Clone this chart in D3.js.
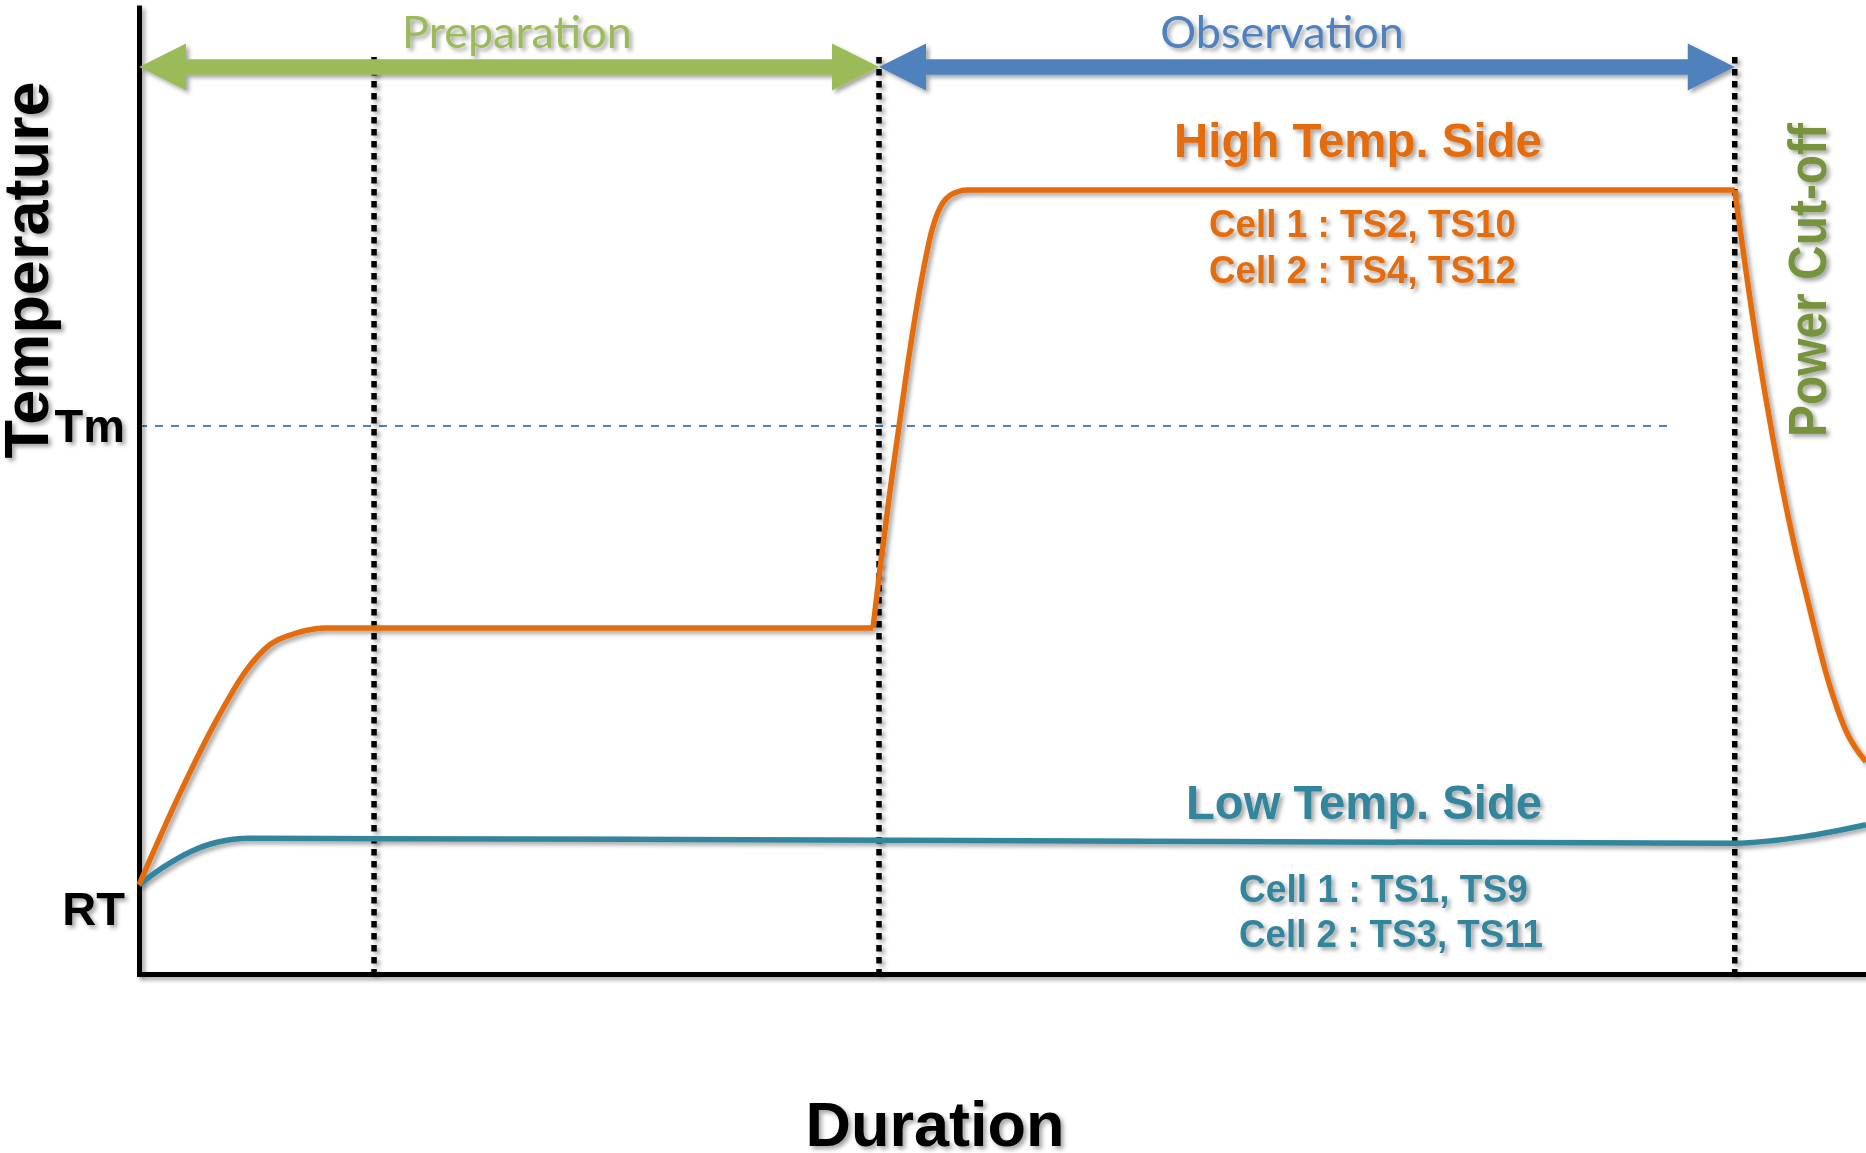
<!DOCTYPE html>
<html>
<head>
<meta charset="utf-8">
<script src="https://cdn.jsdelivr.net/npm/d3@7"></script>
<style>
html,body{margin:0;padding:0;background:#fff;}
svg{display:block;}
</style>
</head>
<body>
<script>
// ---------- data (time units 0..100, temperature units 0..100) ----------
const highTime = [0, 2.28, 4.52, 6.2, 7.59, 9.15, 10.89, 42.5, 42.9, 43.49, 44.0, 44.64, 45.34, 45.92, 46.55, 47.37, 47.95, 92.4, 93.63, 94.6, 95.77, 96.7, 97.68, 98.84, 100];
const highTemp = [9.2, 18.3, 26.3, 31.3, 34.0, 35.2, 35.7, 35.7, 41.7, 49.9, 56.4, 64.4, 71.9, 76.8, 79.6, 80.7, 80.9, 80.9, 65.6, 55.4, 44.9, 38.0, 31.1, 25.1, 21.9];
const lowTime = [0, 1.39, 2.95, 4.52, 6.43, 44.06, 92.4, 96.5, 100];
const lowTemp = [9.2, 11.0, 12.6, 13.6, 14.0, 13.8, 13.5, 14.2, 15.4];
const eventTimes = [13.61, 42.85, 92.4];     // dotted vertical markers
const breakTimes = [42.5, 92.4];             // heating steps (sharp corners)
const phaseNames = ["Preparation", "Observation"];
const phaseStart = [0, 42.85];
const phaseEnd = [42.85, 92.4];
const phaseColors = ["#9BBB59", "#4F81BD"];
const yTickValues = [6.7, 56.55];
const yTickLabels = ["RT", "Tm"];
const tmValue = 56.55;
const tmEndTime = 88.7;
const highLabels = ["High Temp. Side", "Cell 1 : TS2, TS10", "Cell 2 : TS4, TS12"];
const lowLabels = ["Low Temp. Side", "Cell 1 : TS1, TS9", "Cell 2 : TS3, TS11"];

// ---------- layout ----------
const W = 1866, H = 1153;
const ORANGE = "#E46C0A", TEAL = "#31859C";
const FONT = "'Liberation Sans', Arial, Helvetica, sans-serif";

const svg = d3.select("body").append("svg").attr("width", W).attr("height", H);
svg.append("rect").attr("width", W).attr("height", H).attr("fill", "#fff");

const defs = svg.append("defs");
const f = defs.append("filter").attr("id", "shadow")
  .attr("filterUnits", "userSpaceOnUse").attr("x", -W).attr("y", -H).attr("width", 3 * W).attr("height", 3 * H);
f.append("feDropShadow").attr("dx", 3).attr("dy", 3).attr("stdDeviation", 2)
  .attr("flood-color", "#000").attr("flood-opacity", 0.35);

const x = d3.scaleLinear().domain([0, 100]).range([139, 1866]);
const y = d3.scaleLinear().domain([0, 100]).range([974, 5]);

// Tm dashed reference line
svg.append("line")
  .attr("x1", x(0)).attr("x2", x(tmEndTime))
  .attr("y1", y(tmValue)).attr("y2", y(tmValue))
  .attr("stroke", "#4F81BD").attr("stroke-width", 2).attr("stroke-dasharray", "8,8");

// dotted event lines
svg.append("g").attr("filter", "url(#shadow)")
  .selectAll("line").data(eventTimes).join("line")
  .attr("x1", d => x(d)).attr("x2", d => x(d))
  .attr("y1", 57).attr("y2", y(0))
  .attr("stroke", "#000").attr("stroke-width", 5.5).attr("stroke-dasharray", "6.5,5.5");

// axes
const gy = svg.append("g").attr("transform", `translate(${x(0)},0)`).attr("filter", "url(#shadow)")
  .call(d3.axisLeft(y).tickValues(yTickValues).tickFormat((d, i) => yTickLabels[i])
    .tickSize(0).tickSizeOuter(0).tickPadding(14));
gy.select(".domain").attr("stroke", "#000").attr("stroke-width", 5);
gy.selectAll("text").attr("font-family", FONT).attr("font-weight", "bold")
  .attr("font-size", 47).attr("fill", "#000");

const gx = svg.append("g").attr("transform", `translate(0,${y(0)})`).attr("filter", "url(#shadow)")
  .call(d3.axisBottom(x).tickValues([]).tickSize(0).tickSizeOuter(0));
gx.select(".domain").attr("stroke", "#000").attr("stroke-width", 5).attr("stroke-linecap", "square");

// curves
const line = d3.line().x(d => x(d[0])).y(d => y(d[1])).curve(d3.curveMonotoneX);
const highPts = highTime.map((t, i) => [t, highTemp[i]]);
const lowPts = lowTime.map((t, i) => [t, lowTemp[i]]);
const bounds = [0, ...breakTimes, 100];
const highSegs = [];
for (let i = 0; i < bounds.length - 1; i++) {
  highSegs.push(highPts.filter(p => p[0] >= bounds[i] && p[0] <= bounds[i + 1]));
}
const gc = svg.append("g").attr("filter", "url(#shadow)");
gc.append("path").attr("d", line(lowPts)).attr("fill", "none")
  .attr("stroke", TEAL).attr("stroke-width", 5.5);
gc.selectAll("path.high").data(highSegs).join("path").attr("class", "high")
  .attr("d", d => line(d)).attr("fill", "none")
  .attr("stroke", ORANGE).attr("stroke-width", 5.5).attr("stroke-linejoin", "round");

// phase arrows
const arrowY = 67, hl = 47, hh = 23.5, sh = 7.8;
function arrowPath(x0, x1) {
  return `M${x0},${arrowY} L${x0 + hl},${arrowY - hh} L${x0 + hl},${arrowY - sh} L${x1 - hl},${arrowY - sh} ` +
    `L${x1 - hl},${arrowY - hh} L${x1},${arrowY} L${x1 - hl},${arrowY + hh} L${x1 - hl},${arrowY + sh} ` +
    `L${x0 + hl},${arrowY + sh} L${x0 + hl},${arrowY + hh} Z`;
}
const phaseLabelX = [517, 1282];
const ga = svg.append("g").attr("filter", "url(#shadow)");
phaseNames.forEach((name, i) => {
  ga.append("path").attr("d", arrowPath(x(phaseStart[i]), x(phaseEnd[i]))).attr("fill", phaseColors[i]);
  ga.append("text").attr("x", phaseLabelX[i]).attr("y", 48).attr("text-anchor", "middle")
    .attr("font-family", "Lato, 'Open Sans', sans-serif").attr("font-size", 45)
    .attr("fill", phaseColors[i]).text(name);
});

// annotations
const gt = svg.append("g").attr("filter", "url(#shadow)")
  .attr("font-family", FONT).attr("font-weight", "bold");

gt.append("text").attr("x", 1358).attr("y", 157).attr("text-anchor", "middle")
  .attr("font-size", 48).attr("textLength", 368).attr("lengthAdjust", "spacingAndGlyphs")
  .attr("fill", ORANGE).text(highLabels[0]);
gt.append("text").attr("x", 1209).attr("y", 237).attr("font-size", 38).attr("textLength", 307)
  .attr("lengthAdjust", "spacingAndGlyphs").attr("fill", ORANGE).text(highLabels[1]);
gt.append("text").attr("x", 1209).attr("y", 283).attr("font-size", 38).attr("textLength", 307)
  .attr("lengthAdjust", "spacingAndGlyphs").attr("fill", ORANGE).text(highLabels[2]);

gt.append("text").attr("x", 1364).attr("y", 819).attr("text-anchor", "middle")
  .attr("font-size", 48).attr("textLength", 356).attr("lengthAdjust", "spacingAndGlyphs")
  .attr("fill", TEAL).text(lowLabels[0]);
gt.append("text").attr("x", 1239).attr("y", 902).attr("font-size", 38).attr("textLength", 289)
  .attr("lengthAdjust", "spacingAndGlyphs").attr("fill", TEAL).text(lowLabels[1]);
gt.append("text").attr("x", 1239).attr("y", 947).attr("font-size", 38).attr("textLength", 304)
  .attr("lengthAdjust", "spacingAndGlyphs").attr("fill", TEAL).text(lowLabels[2]);

gt.append("text").attr("transform", "translate(1826,280) rotate(-90)").attr("text-anchor", "middle")
  .attr("font-size", 54).attr("textLength", 314).attr("lengthAdjust", "spacingAndGlyphs")
  .attr("fill", "#77933C").text("Power Cut-off");

gt.append("text").attr("transform", "translate(48,270) rotate(-90)").attr("text-anchor", "middle")
  .attr("font-size", 63).attr("fill", "#000").text("Temperature");

gt.append("text").attr("x", 935).attr("y", 1146).attr("text-anchor", "middle")
  .attr("font-size", 63).attr("fill", "#000").text("Duration");
</script>
</body>
</html>
